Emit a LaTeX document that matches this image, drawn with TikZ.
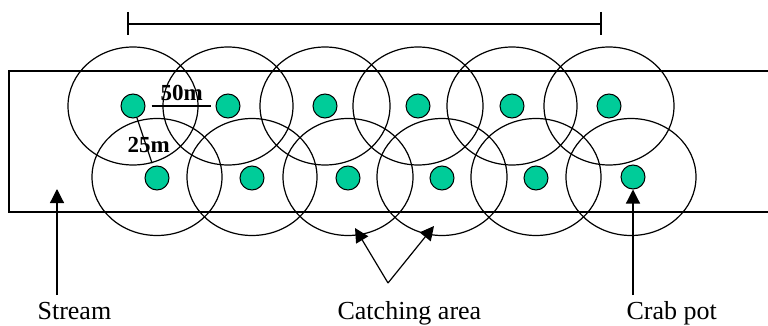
\documentclass[tikz,border=0pt]{standalone}
\usepackage{fontspec}
\setmainfont{Liberation Serif}
\usetikzlibrary{arrows.meta}
\definecolor{potgreen}{RGB}{0,204,153}
\begin{document}
\begin{tikzpicture}[x=1pt,y=-1pt,line width=1.2pt,
  pot/.style={circle,draw=black,line width=1pt,fill=potgreen,minimum size=24pt,inner sep=0pt},
  zone/.style={draw=black,line width=1.2pt},
  pointer/.style={-{Triangle[length=14pt,width=14pt]},line width=1.2pt},
  caption/.style={font=\fontsize{26}{30}\selectfont,inner sep=0pt,anchor=base west},
  dist/.style={font=\fontsize{23}{26}\selectfont\bfseries,inner sep=0pt,anchor=base west}]
\useasboundingbox (0,0) rectangle (768,326);

% stream banks (open towards the right)
\draw (768,71) -- (9,71) -- (9,212) -- (768,212);

% scale bar
\coordinate (bl) at (128,24);
\coordinate (br) at (601,24);
\draw (bl) -- (br);
\draw ([yshift=12pt]bl) -- ([yshift=-11pt]bl);
\draw ([yshift=12pt]br) -- ([yshift=-11pt]br);

% crab pots: upper and lower rows
\foreach \n/\x in {1/133,2/228,3/325,4/418,5/512,6/609}
  \coordinate (u\n) at (\x,106);
\foreach \n/\x/\y in {7/157/178,8/252/178,9/348/178,10/442/178,11/536/178,12/633/177}
  \coordinate (u\n) at (\x,\y);

% catching areas
\foreach \n in {1,...,6}
  \draw[zone] (u\n) ellipse [x radius=65, y radius=59];
\foreach \n/\x in {7/157,8/252,9/348,10/442,11/536,12/631}
  \draw[zone] (\x,177) ellipse [x radius=65, y radius=58.5];

\foreach \n in {1,...,12}
  \node[pot] (p\n) at (u\n) {};

% spacing marks
\draw ([xshift=6pt]p1.east) -- ([xshift=-5pt]p2.west);
\draw[shorten >=3pt] (p1) -- (p7);
\node[dist] (d50) at (160,101) {50m};
\node[dist] (d25) at (127,152) {25m};

% captions and pointers
\node[caption] (stream) at (37,319) {Stream};
\node[caption] (catch) at (337,319) {Catching area};
\node[caption] (crab) at (626,319) {Crab pot};

\coordinate (s0) at (57,295);
\coordinate (s1) at (57,189);
\draw[pointer] (s0) -- (s1);

\coordinate (apex) at (388,283);
\coordinate (t1) at (355,228);
\coordinate (t2) at (434,226);
\draw[pointer] (apex) -- (t1);
\draw[pointer] (apex) -- (t2);

\coordinate (c0) at (633,295);
\draw[pointer] (c0) -- (p12.south);
\end{tikzpicture}
\end{document}
